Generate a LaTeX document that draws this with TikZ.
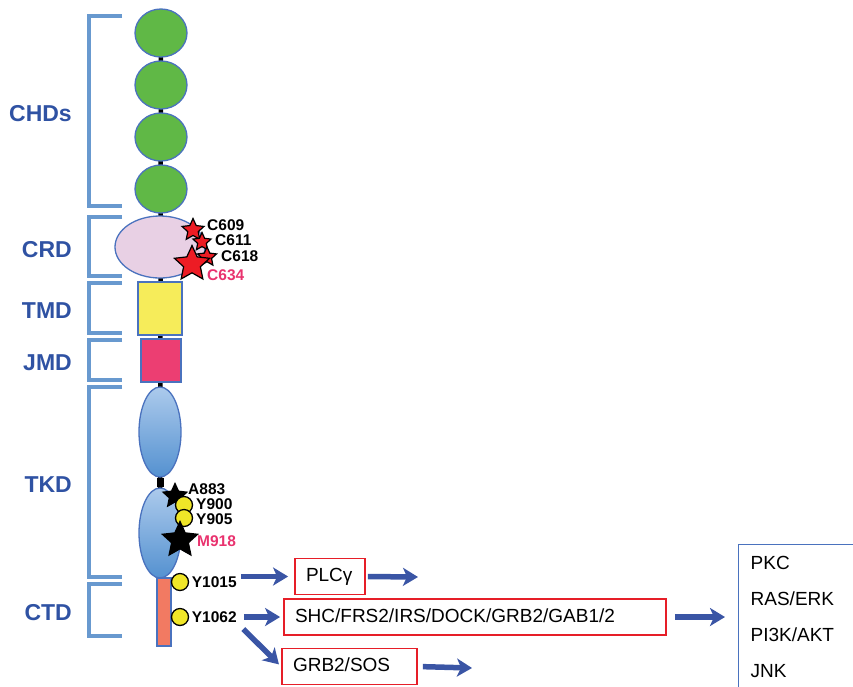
\documentclass[tikz,border=0pt]{standalone}
\usepackage{fontspec}
\setmainfont{Liberation Sans}
\usetikzlibrary{arrows.meta, positioning, shapes.geometric, backgrounds}

\definecolor{brkblue}{RGB}{104,153,207}
\definecolor{labblue}{RGB}{47,82,163}
\definecolor{edgeblue}{RGB}{74,114,190}
\definecolor{chdgreen}{RGB}{96,184,70}
\definecolor{crdpink}{RGB}{232,208,228}
\definecolor{tmdyellow}{RGB}{246,236,90}
\definecolor{jmdpink}{RGB}{236,62,114}
\definecolor{tkdlight}{RGB}{172,202,236}
\definecolor{tkddark}{RGB}{84,145,208}
\definecolor{ctdsalmon}{RGB}{242,122,98}
\definecolor{starred}{RGB}{237,28,36}
\definecolor{sitepink}{RGB}{233,50,110}
\definecolor{tyryellow}{RGB}{240,230,40}
\definecolor{sigblue}{RGB}{58,85,165}
\definecolor{boxred}{RGB}{230,30,40}

\begin{document}
\begin{tikzpicture}[
    x=1pt, y=-1pt,
    brk/.style={draw=brkblue, line width=4.5pt},
    domlab/.style={anchor=east, inner sep=0pt, text=labblue,
                   font=\fontsize{23}{26}\selectfont\bfseries},
    dom/.style={draw=edgeblue, line width=1.3pt, inner sep=0pt},
    chd/.style={dom, ellipse, fill=chdgreen,
                minimum width=52pt, minimum height=48pt},
    kin/.style={dom, ellipse, top color=tkdlight, bottom color=tkddark,
                minimum width=42pt, minimum height=90pt},
    redstar/.style={star, star points=5, star point ratio=2.1,
                    fill=starred, draw=black, line width=1.2pt, inner sep=0pt},
    blkstar/.style={star, star points=5, star point ratio=2.1,
                    fill=black, inner sep=0pt},
    tyr/.style={circle, fill=tyryellow, draw=black, line width=1.3pt,
                minimum size=17pt, inner sep=0pt},
    site/.style={inner sep=0pt, font=\fontsize{15.5}{17}\selectfont\bfseries},
    sigbox/.style={draw=boxred, line width=1.8pt, align=left,
                   inner xsep=11pt, minimum height=36pt,
                   text height=14pt, text depth=4pt,
                   font=\fontsize{19}{22}\selectfont},
    pathbox/.style={draw=edgeblue, line width=1.3pt, text width=180pt,
                    align=left, inner xsep=12pt, inner ysep=12pt,
                    font=\fontsize{19}{35.7}\selectfont},
    sig/.style={-{Stealth[length=15pt, width=18pt, inset=4pt]},
                line width=5.5pt, draw=sigblue}
]
  \useasboundingbox (0,0) rectangle (853,686);

  % domain brackets
  \foreach \top/\bot/\lab in {16/206/CHDs, 217/276/CRD, 283/333/TMD,
                              340/380/JMD, 387/577/TKD, 584/636/CTD} {
    \draw[brk] (122,\top) -| (89,\bot) -- (122,\bot);
    \node[domlab] (lab\lab) at (72,{(\top+\bot)/2+3}) {\lab};
  }

  % receptor chain
  \node[chd] (chd1) at (161,33)  {};
  \node[chd] (chd2) at (161,85)  {};
  \node[chd] (chd3) at (161,137) {};
  \node[chd] (chd4) at (161,189) {};
  \node[dom, ellipse, fill=crdpink, minimum width=90pt, minimum height=62pt]
       (crd) at (160,247) {};
  \node[dom, fill=tmdyellow, minimum width=44pt, minimum height=53pt]
       (tmd) at (160,308.5) {};
  \node[dom, fill=jmdpink, minimum width=40pt, minimum height=43pt]
       (jmd) at (161,360.5) {};
  \node[kin] (tkd1) at (160,432) {};
  \node[kin] (tkd2) at (160,533) {};
  \node[dom, fill=ctdsalmon, minimum width=14pt, minimum height=68pt]
       (ctd) at (164,612) {};

  \begin{scope}[on background layer]
    \draw[line width=4.5pt] (chd1.center) -- (tkd2.center);
    \draw[line width=7pt] (tkd1) -- (tkd2);
  \end{scope}

  % cysteine sites
  \node[redstar, minimum size=23pt] (s609) at (193,230) {};
  \node[redstar, minimum size=19pt] (s611) at (202,242) {};
  \node[redstar, minimum size=20pt] (s618) at (207,257) {};
  \node[redstar, minimum size=37pt] (s634) at (192,264) {};
  \node[site, anchor=west] (c609) at (207,225) {C609};
  \node[site, anchor=west] (c611) at (215,240) {C611};
  \node[site, anchor=west] (c618) at (221,256) {C618};
  \node[site, anchor=west, text=sitepink] (c634) at (207,275) {C634};

  % kinase sites
  \node[blkstar, minimum size=28pt] (s883) at (175,496) {};
  \node[tyr] (y900) at (184,505) {};
  \node[tyr] (y905) at (184,518) {};
  \node[blkstar, minimum size=40pt] (s918) at (180,540) {};
  \node[site, anchor=west] (a883) at (188,489) {A883};
  \node[site, anchor=west] (l900) at (196,504) {Y900};
  \node[site, anchor=west] (l905) at (196,519) {Y905};
  \node[site, anchor=west, text=sitepink] (m918) at (197,541) {M918};

  % docking tyrosines
  \node[tyr] (y1015) at (180,582) {};
  \node[tyr] (y1062) at (180,617) {};
  \node[site, right=2.5pt of y1015] (l1015) {Y1015};
  \node[site, right=2.5pt of y1062] (l1062) {Y1062};

  % adaptors and pathways
  \node[sigbox, text width=48pt]  (plc) at (330,576.5) {PLCγ};
  \node[sigbox, text width=360pt] (shc) at (475,617)   {SHC/FRS2/IRS/DOCK/GRB2/GAB1/2};
  \node[sigbox, text width=113pt] (grb) at (349.5,666.5) {GRB2/SOS};
  \node[pathbox, anchor=north west] (paths) at (738,544)
       {PKC\\RAS/ERK\\PI3K/AKT\\JNK};
  \coordinate (plcend) at (418,577);
  \coordinate (grbend) at (472,668);

  \draw[sig, shorten <=4pt, shorten >=6pt] (l1015.east |- plc.west) -- (plc.west);
  \draw[sig, shorten <=2pt] (plc.east) -- (plcend);
  \draw[sig, shorten <=7pt, shorten >=3pt] (l1062.east) -- (shc.west);
  \draw[sig, shorten <=9pt, shorten >=3pt] (l1062.south east) -- (grb.west);
  \draw[sig, shorten <=8pt, shorten >=13pt] (shc.east) -- (shc.east -| paths.west);
  \draw[sig, shorten <=5pt] (grb.east) -- (grbend);
\end{tikzpicture}
\end{document}
